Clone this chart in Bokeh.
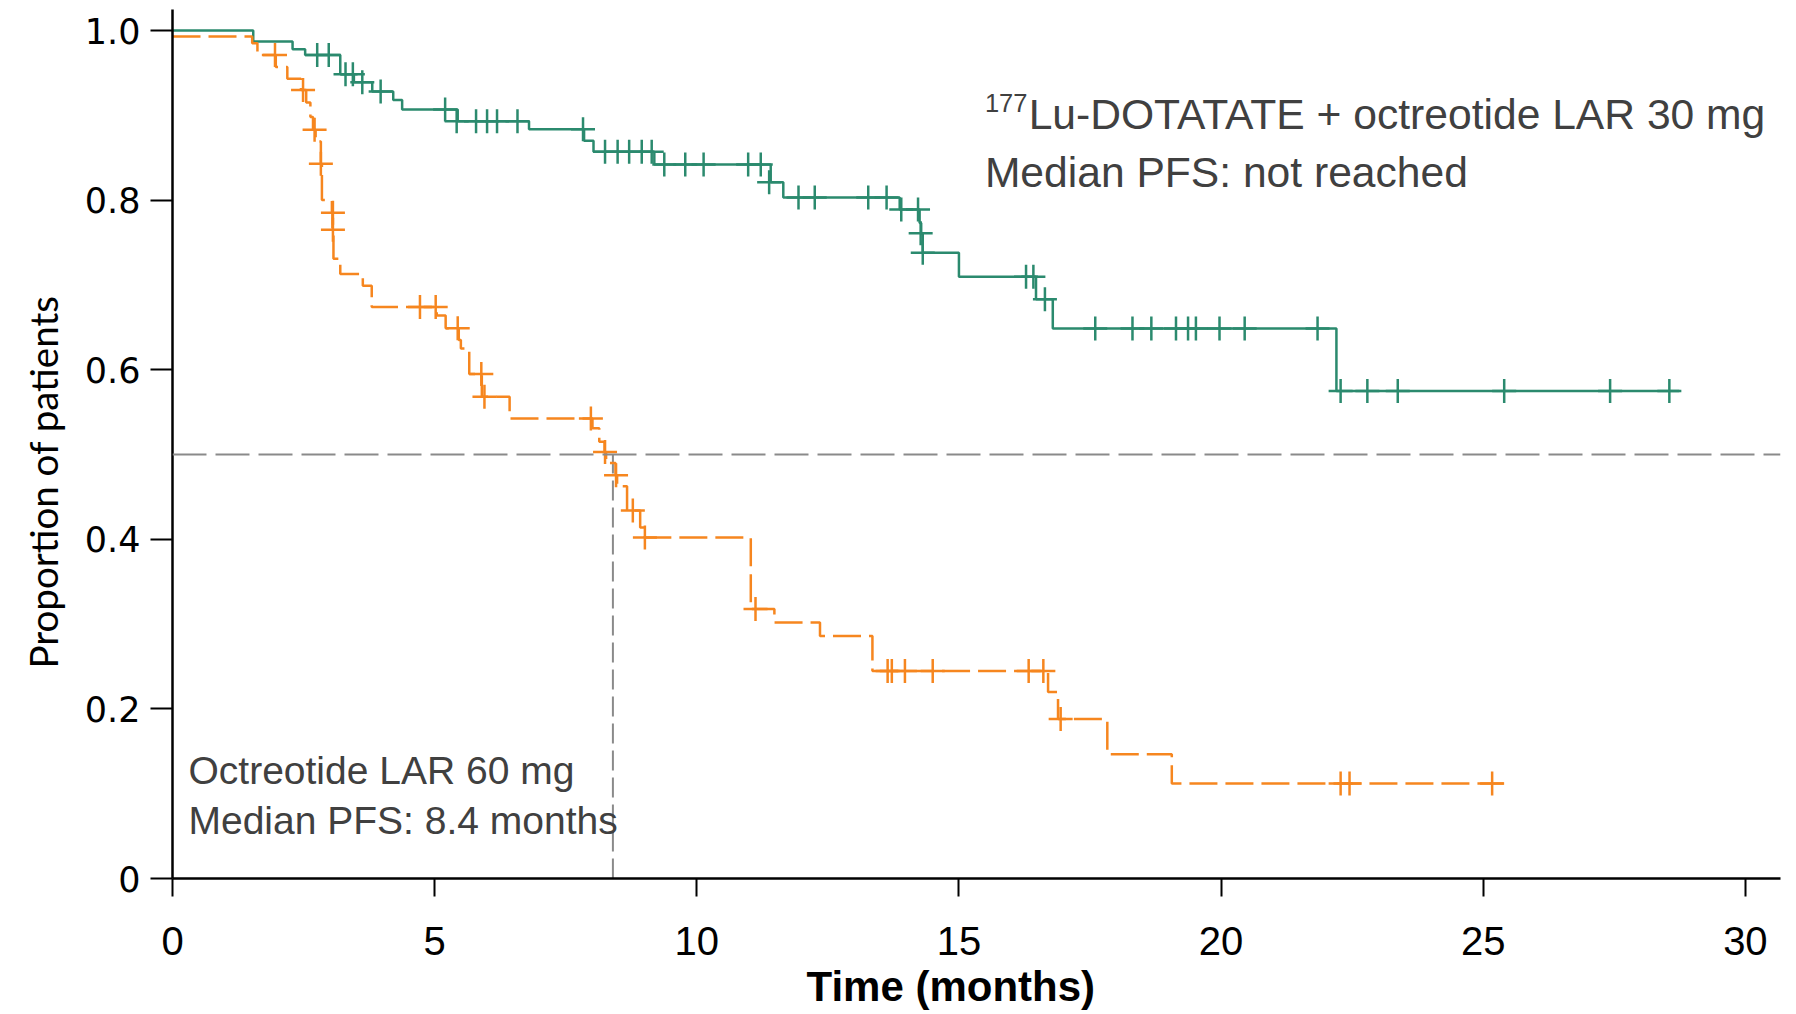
import math
from bokeh.plotting import figure
from bokeh.models import Range1d, FixedTicker, Span, Label, Title
from bokeh.embed import file_html
from bokeh.resources import INLINE

# ---- data ----
# 177Lu-DOTATATE + octreotide LAR 30 mg (step times and survival after each step)
lu_times = [0, 1.54, 2.29, 2.53, 3.20, 3.46, 3.81, 4.21, 4.38, 5.44, 6.80, 7.85, 8.03,
            9.19, 11.41, 11.65, 13.87, 14.25, 14.28, 14.31, 15.00, 16.47, 16.79, 22.20]
lu_surv = [1.0, 0.987, 0.978, 0.971, 0.9485, 0.939, 0.928, 0.918, 0.907, 0.893, 0.8836, 0.870, 0.857,
           0.842, 0.821, 0.803, 0.789, 0.773, 0.761, 0.738, 0.7095, 0.683, 0.6486, 0.575]
lu_end = 28.74
lu_cens_t = [2.76, 2.98, 3.30, 3.44, 3.62, 3.97, 5.20, 5.42, 5.79, 6.00, 6.19, 6.58, 7.83,
             8.25, 8.49, 8.71, 8.95, 9.14, 9.38, 9.78, 10.13, 10.98, 11.22, 11.38,
             11.94, 12.25, 13.27, 13.62, 13.90, 14.22, 14.27, 14.31, 16.28, 16.42, 16.64,
             17.60, 18.31, 18.67, 19.14, 19.37, 19.52, 19.97, 20.45, 21.84,
             22.28, 22.79, 23.37, 25.40, 27.42, 28.55]
lu_cens_s = [0.971, 0.971, 0.9485, 0.9485, 0.939, 0.928, 0.907, 0.893, 0.893, 0.893, 0.893, 0.893, 0.8836,
             0.857, 0.857, 0.857, 0.857, 0.857, 0.842, 0.842, 0.842, 0.842, 0.842, 0.821,
             0.803, 0.803, 0.803, 0.803, 0.789, 0.789, 0.761, 0.738, 0.7095, 0.7095, 0.683,
             0.6486, 0.6486, 0.6486, 0.6486, 0.6486, 0.6486, 0.6486, 0.6486, 0.6486,
             0.575, 0.575, 0.575, 0.575, 0.575, 0.575]

# Octreotide LAR 60 mg
oc_times = [0, 1.52, 1.62, 1.97, 2.19, 2.45, 2.55, 2.63, 2.68, 2.73, 2.83, 2.85, 3.04, 3.05, 3.07,
            3.20, 3.63, 3.80, 5.04, 5.21, 5.46, 5.50, 5.66, 5.90, 6.43, 8.01, 8.14, 8.24, 8.27,
            8.45, 8.48, 8.67, 8.92, 9.00, 11.03, 11.48, 12.35, 13.35, 16.70, 16.89, 17.83, 19.06]
oc_surv = [0.993, 0.985, 0.971, 0.957, 0.943, 0.930, 0.915, 0.898, 0.883, 0.869, 0.843, 0.800, 0.785, 0.765, 0.731,
           0.713, 0.699, 0.674, 0.664, 0.649, 0.635, 0.625, 0.595, 0.568, 0.5425, 0.531, 0.515, 0.503, 0.490,
           0.4756, 0.4626, 0.434, 0.414, 0.402, 0.3177, 0.302, 0.286, 0.2448, 0.220, 0.188, 0.1466, 0.112]
oc_end = 25.39
oc_cens_t = [1.955, 2.49, 2.71, 2.83, 3.06, 3.06, 4.72, 5.02, 5.44, 5.89, 5.95, 7.98, 8.25, 8.46,
             8.78, 9.01, 11.12, 13.64, 13.72, 13.97, 14.50, 16.33, 16.61, 16.94, 22.28, 22.45, 25.17]
oc_cens_s = [0.971, 0.930, 0.883, 0.843, 0.785, 0.765, 0.674, 0.674, 0.649, 0.595, 0.568, 0.5425, 0.503, 0.4756,
             0.434, 0.402, 0.3177, 0.2448, 0.2448, 0.2448, 0.2448, 0.2448, 0.2448, 0.188, 0.112, 0.112, 0.112]

median_level = 0.5
median_oc = 8.4

x_ticks = [0, 5, 10, 15, 20, 25, 30]
y_ticks = [0, 0.2, 0.4, 0.6, 0.8, 1.0]
y_tick_labels = ["0", "0.2", "0.4", "0.6", "0.8", "1.0"]

GREEN = "#2b8a6e"
ORANGE = "#f6861f"
GRAY = "#8a8a8a"
TXT = "#404040"

p = figure(width=1790, height=1012, x_range=Range1d(0, 30.67), y_range=Range1d(0, 1.0248),
           output_backend="svg", toolbar_location=None, title_location=None,
           min_border_left=172, min_border_right=10, min_border_top=9, min_border_bottom=134)
p.xgrid.visible = False
p.ygrid.visible = False
p.outline_line_color = None
p.background_fill_color = "white"
p.border_fill_color = "white"

# axes
p.xaxis.ticker = FixedTicker(ticks=x_ticks)
p.xaxis.axis_line_width = 2.5
p.xaxis.axis_line_color = "black"
p.xaxis.major_tick_line_width = 2
p.xaxis.major_tick_out = 18
p.xaxis.major_tick_in = 0
p.xaxis.minor_tick_line_color = None
p.xaxis.major_label_text_font = "Liberation Sans"
p.xaxis.major_label_text_font_size = "40px"
p.xaxis.major_label_text_color = "black"
p.xaxis.major_label_standoff = 30

p.yaxis.ticker = FixedTicker(ticks=y_ticks)
p.yaxis.major_label_overrides = {t: l for t, l in zip(y_ticks, y_tick_labels)}
p.yaxis.axis_line_width = 2.5
p.yaxis.axis_line_color = "black"
p.yaxis.major_tick_line_width = 2
p.yaxis.major_tick_out = 22
p.yaxis.major_tick_in = 0
p.yaxis.minor_tick_line_color = None
p.yaxis.major_label_text_font = "DejaVu Sans"
p.yaxis.major_label_text_font_size = "35px"
p.yaxis.major_label_text_color = "black"
p.yaxis.major_label_standoff = 10

# axis titles (as side-panel titles so they can be offset)
p.add_layout(Title(text="Time (months)", align="left", offset=634, standoff=6,
                   text_font="Liberation Sans", text_font_size="42px",
                   text_font_style="bold", text_color="black"), "below")
p.add_layout(Title(text="Proportion of patients", align="left", offset=210, standoff=32,
                   text_font="Lato", text_font_size="38.5px", text_font_style="normal",
                   text_color="black"), "left")

# median reference lines
p.add_layout(Span(location=median_level, dimension="width", line_color=GRAY,
                  line_width=2, line_dash="34 9"))
p.segment(x0=[median_oc], y0=[0], x1=[median_oc], y1=[median_level],
          line_color=GRAY, line_width=2, line_dash="20 7")

# KM curves
lx = lu_times + [lu_end]
ly = lu_surv + [lu_surv[-1]]
p.step(lx, ly, mode="after", line_color=GREEN, line_width=2.5)
ox = oc_times + [oc_end]
oy = oc_surv + [oc_surv[-1]]
p.step(ox, oy, mode="after", line_color=ORANGE, line_width=2.5, line_dash="28 8")

# censor marks
p.scatter(lu_cens_t, lu_cens_s, marker="cross", size=24, line_color=GREEN, line_width=2.5)
p.scatter(oc_cens_t, oc_cens_s, marker="cross", size=24, line_color=ORANGE, line_width=2.5)

# annotations
p.add_layout(Label(x=15.495, y=0.9142, text="177", text_font="Liberation Sans",
                   text_font_size="25.5px", text_color=TXT, text_align="left",
                   text_baseline="alphabetic"))
p.add_layout(Label(x=16.33, y=0.9013, text="Lu-DOTATATE + octreotide LAR 30 mg",
                   text_font="Liberation Sans", text_font_size="42.6px", text_color=TXT,
                   text_align="left", text_baseline="alphabetic"))
p.add_layout(Label(x=15.495, y=0.8328, text="Median PFS: not reached",
                   text_font="Liberation Sans", text_font_size="42.6px", text_color=TXT,
                   text_align="left", text_baseline="alphabetic"))
p.add_layout(Label(x=0.305, y=0.1268, text="Octreotide LAR 60 mg",
                   text_font="Liberation Sans", text_font_size="39px", text_color=TXT,
                   text_align="left", text_baseline="alphabetic"))
p.add_layout(Label(x=0.305, y=0.0683, text="Median PFS: 8.4 months",
                   text_font="Liberation Sans", text_font_size="39px", text_color=TXT,
                   text_align="left", text_baseline="alphabetic"))

open("out.html", "w").write(file_html(p, INLINE))
